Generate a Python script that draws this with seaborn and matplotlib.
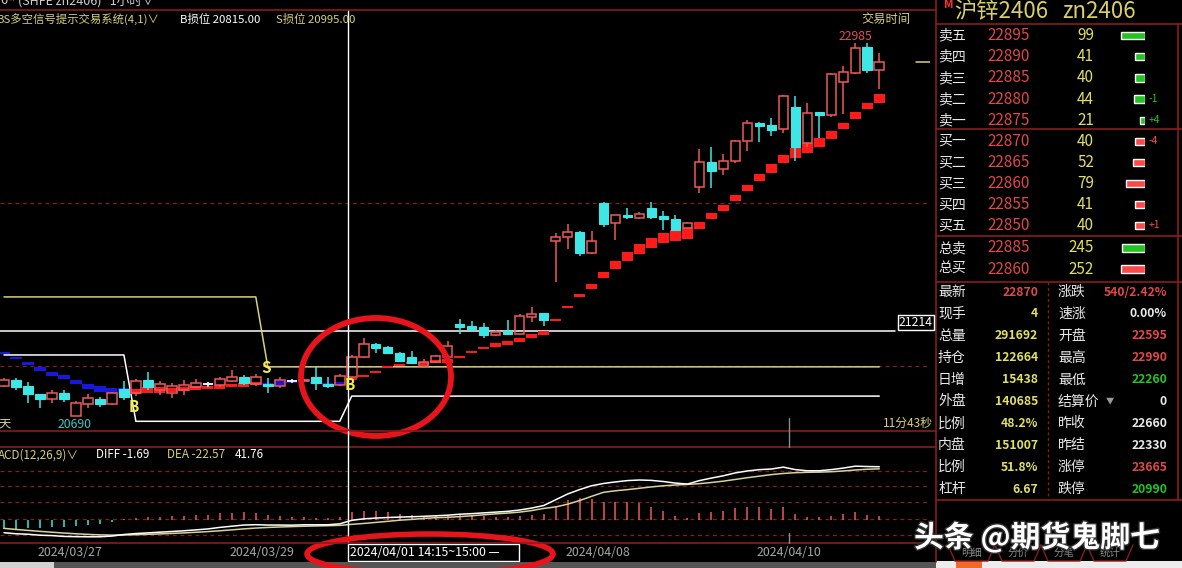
import numpy as np
import matplotlib
matplotlib.use("Agg")
import matplotlib.pyplot as plt
import matplotlib.transforms as mtrans
from matplotlib.patches import Ellipse, Rectangle
import matplotlib.patheffects as pe
import seaborn as sns

sns.set_theme(style="dark", rc={"axes.facecolor": "black", "figure.facecolor": "black",
                                "savefig.facecolor": "black"})
plt.rcParams['font.family'] = ['Noto Sans CJK SC', 'DejaVu Sans']
plt.rcParams['axes.unicode_minus'] = False

# ---------------- data (hourly candles, zn2406) ----------------
bar_open = [20877, 20914, 20877, 20828, 20797, 20834, 20695, 20766, 20797, 20766,
            20858, 20834, 20914, 20852, 20834, 20852, 20871, 20889, 20883, 20908,
            20932, 20889, 20889, 20877, 20908, 20908, 20932, 20889, 20883, 20932,
            21055, 21135, 21117, 21080, 21055, 21000, 21025, 21055, 21258, 21246,
            21240, 21191, 21215, 21197, 21302, 21326, 21771, 21794, 21824, 21695,
            22003, 21880, 21929, 21910, 21972, 21922, 21904, 21849, 22101, 22255,
            22212, 22261, 22384, 22495, 22482, 22458, 22593, 22372, 22562, 22544,
            22747, 22802, 22962, 22820]
bar_high = [20926, 20926, 20902, 20828, 20852, 20852, 20785, 20828, 20809, 20840,
            20908, 20920, 20963, 20908, 20896, 20914, 20920, 20902, 20932, 20975,
            20945, 20951, 20926, 20932, 20920, 20920, 20994, 20932, 20951, 21068,
            21172, 21141, 21123, 21086, 21092, 21043, 21068, 21154, 21289, 21277,
            21264, 21221, 21283, 21320, 21363, 21326, 21816, 21873, 21830, 21830,
            22009, 21929, 21972, 21947, 22009, 21953, 21929, 21886, 22335, 22347,
            22304, 22390, 22513, 22501, 22525, 22667, 22661, 22618, 22562, 22802,
            22845, 22986, 22985, 22925]
bar_low = [20871, 20852, 20773, 20742, 20773, 20779, 20690, 20742, 20748, 20760,
           20791, 20816, 20852, 20822, 20803, 20822, 20865, 20871, 20871, 20902,
           20883, 20877, 20834, 20865, 20895, 20902, 20852, 20865, 20877, 20926,
           21049, 21080, 21074, 21025, 21012, 20988, 21018, 21055, 21196, 21215,
           21172, 21185, 21197, 21190, 21271, 21246, 21519, 21720, 21677, 21689,
           21855, 21775, 21904, 21904, 21904, 21837, 21830, 21843, 22064, 22095,
           22175, 22249, 22323, 22378, 22415, 22433, 22261, 22347, 22402, 22532,
           22550, 22796, 22802, 22704]
bar_close = [20914, 20871, 20828, 20797, 20834, 20797, 20772, 20803, 20766, 20834,
             20809, 20908, 20871, 20889, 20877, 20883, 20896, 20889, 20920, 20932,
             20895, 20932, 20877, 20914, 20908, 20914, 20895, 20877, 20939, 21055,
             21135, 21110, 21080, 21031, 21018, 21025, 21061, 21123, 21240, 21227,
             21191, 21209, 21197, 21308, 21320, 21283, 21792, 21824, 21695, 21769,
             21873, 21929, 21916, 21935, 21916, 21904, 21837, 21880, 22255, 22200,
             22261, 22384, 22495, 22476, 22451, 22661, 22347, 22556, 22544, 22796,
             22808, 22956, 22820, 22870]

# BS long/short signal blocks (S = short/blue, B = long/red)
sig_mode = ("SSSSSSSSSSS" "BBBBBBBBBBB" "SSSSSSS"
            "BBBBBBBBBBBBBBBBBBBBBBBBBBBBBBBBBBBBBBBBBBBBB")
sig_hi = [21086, 21055, 21025, 20994, 20963, 20945, 20914, 20889, 20877, 20865,
          20865, 20858, 20871, 20871, 20865, 20871, 20877, 20877, 20883, 20889,
          20896, 20902, 20896, 20908, 20914, 20920, 20902, 20896, 20902, 20926,
          20945, 20969, 21000, 21012, 21025, 21025, 21037, 21043, 21061, 21092,
          21117, 21141, 21154, 21172, 21197, 21215, 21289, 21369, 21443, 21504,
          21578, 21646, 21701, 21750, 21787, 21818, 21836, 21849, 21886, 21941,
          21990, 22052, 22113, 22181, 22242, 22298, 22341, 22372, 22402, 22445,
          22495, 22562, 22618, 22673]
sig_lo = [21074, 21043, 21006, 20969, 20939, 20920, 20889, 20859, 20840, 20834,
          20828, 20828, 20834, 20834, 20840, 20846, 20852, 20859, 20859, 20871,
          20871, 20883, 20877, 20877, 20896, 20902, 20889, 20877, 20883, 20914,
          20932, 20957, 20988, 21000, 21012, 21006, 21018, 21018, 21052, 21080,
          21105, 21117, 21129, 21148, 21172, 21191, 21277, 21357, 21424, 21474,
          21541, 21597, 21646, 21689, 21726, 21757, 21769, 21781, 21843, 21904,
          21953, 22015, 22076, 22138, 22187, 22249, 22279, 22310, 22347, 22396,
          22458, 22519, 22581, 22618]
sig_marks = [("B", 11), ("S", 22), ("B", 29)]

# stop lines (breakpoints)
s_stop_idx = [0, 21, 22, 73]
s_stop_val = [21425, 21425, 20995, 20995]
b_stop_idx = [0, 10, 11, 28, 29, 73]
b_stop_val = [21068, 21068, 20660, 20660, 20815, 20815]
level_line = 21214
high_mark = 22985
low_mark = 20690

# MACD(12,26,9)
macd_diff = [-66, -71.6, -74.1, -79.1, -81, -85.4, -86.6, -87.3, -87.3, -83.5,
             -75.4, -70.4, -67, -63.3, -59.8, -56, -51.4, -46.4, -38.5, -32.3,
             -26.2, -24.4, -26.3, -26.2, -26.9, -25, -25, -24.75, -20, -1.69,
             6, 10, 13, 15, 17, 19, 22, 25, 30, 33,
             37, 41, 45, 52, 62, 75, 105, 135, 158, 178,
             190, 198, 205, 208, 206, 200, 192, 187, 205, 218,
             230, 245, 255, 262, 265, 275, 262, 256, 256, 262,
             270, 280, 278, 277]
macd_dea = [-43.5, -49.1, -54.1, -59.1, -63.5, -67.9, -71.6, -74.8, -77.3, -78.5,
            -77.9, -76.4, -74.5, -72.3, -69.8, -67, -63.9, -60.4, -56, -51.3,
            -46.2, -41.9, -38.8, -36.2, -34.4, -32.5, -31, -29.75, -27.8, -22.57,
            -18, -12.5, -7, -1, 3, 8, 12, 14, 17.5, 22,
            27, 32, 36, 41, 49, 60, 68, 82, 101, 123,
            144, 152, 158, 165, 172, 178, 182, 185, 189, 195,
            202, 211, 220, 228, 236, 242, 246, 248, 249, 251,
            255, 260, 264, 266]
macd_hist = [-45, -45, -40, -40, -35, -35, -30, -25, -20, -10,
             5, 12, 15, 18, 20, 22, 25, 28, 35, 38,
             40, 35, 25, 20, 15, 15, 12, 10, 15, 41.76,
             48, 45, 40, 32, 28, 22, 20, 22, 25, 22,
             20, 18, 18, 22, 25, 30, 75, 105, 114, 110,
             92, 92, 95, 87, 69, 48, 22, 10, 35, 40,
             48, 62, 69, 66, 57, 66, 31, 17, 15, 22,
             31, 40, 28, 22]

date_labels = ["2024/03/27", "2024/03/29", "2024/04/08", "2024/04/10"]
date_pos = [5.5, 21.5, 49.5, 65.5]
cursor_idx = 29
cursor_text = "2024/04/01 14:15~15:00 —"

# order book
ask_labels = ["卖五", "卖四", "卖三", "卖二", "卖一"]
ask_prices = [22895, 22890, 22885, 22880, 22875]
ask_vols = [99, 41, 40, 44, 21]
ask_chg = ["", "", "", "-1", "+4"]
bid_labels = ["买一", "买二", "买三", "买四", "买五"]
bid_prices = [22870, 22865, 22860, 22855, 22850]
bid_vols = [40, 52, 79, 41, 40]
bid_chg = ["-4", "", "", "", "+1"]
tot_labels = ["总卖", "总买"]
tot_prices = [22885, 22860]
tot_vols = [245, 252]

stat_left_names = ["最新", "现手", "总量", "持仓", "日增", "外盘", "比例", "内盘", "比例", "杠杆"]
stat_left_vals = ["22870", "4", "291692", "122664", "15438", "140685", "48.2%", "151007", "51.8%", "6.67"]
stat_right_names = ["涨跌", "速涨", "开盘", "最高", "最低", "结算价", "昨收", "昨结", "涨停", "跌停"]
stat_right_vals = ["540/2.42%", "0.00%", "22595", "22990", "22260", "0", "22660", "22330", "23665", "20990"]

# ---------------- styles ----------------
RED_C = "#ee5a5a"
CYAN_C = "#3ee6e6"
BLK_RED = "#ff1a1a"
BLK_BLUE = "#1717e0"
DARK_RED = "#8a1c1c"
KHAKI = "#d8d07a"
YEL = "#e2e060"
GRAY = "#a6a6a6"
PR_RED = "#e04848"
GREEN = "#22c422"

W, H = 1182, 568
fig = plt.figure(figsize=(W / 100, H / 100), dpi=100)


def px_axes(x0, y0, x1, y1, **kw):
    return fig.add_axes([x0 / W, 1 - y1 / H, (x1 - x0) / W, (y1 - y0) / H], **kw)


XL, XR = -0.334, 77.23
idx = np.arange(len(bar_open))
o = np.array(bar_open, float); h = np.array(bar_high, float)
l = np.array(bar_low, float); c = np.array(bar_close, float)

# ---------------- price panel ----------------
ax = px_axes(0, 10, 930, 431)
ax.axhline(22000, color=DARK_RED, lw=0.9, ls=(0, (3, 3)), zorder=1)
ax.axhline(21000, color=DARK_RED, lw=0.9, ls=(0, (3, 3)), zorder=1)
ax.axhline(level_line, xmax=895 / 930, color="white", lw=1.1, zorder=1)
ax.axhline(bar_close[-1], xmin=916 / 930, xmax=1, color=KHAKI, lw=1.1)

sns.lineplot(x=s_stop_idx, y=s_stop_val, ax=ax, color=KHAKI, lw=1.1,
             estimator=None, sort=False, legend=False, zorder=2)
sns.lineplot(x=b_stop_idx, y=b_stop_val, ax=ax, color="white", lw=1.1,
             estimator=None, sort=False, legend=False, zorder=2)

hi = np.array(sig_hi, float); lo = np.array(sig_lo, float)
blk_cols = [BLK_BLUE if m == "S" else BLK_RED for m in sig_mode]
ax.bar(idx, hi - lo, bottom=lo, width=0.93, color=blk_cols, linewidth=0, zorder=3)

up = c > o
dn = c < o
dj = c == o
ax.vlines(idx[up], l[up], o[up], color=RED_C, lw=1.1, zorder=4)
ax.vlines(idx[up], c[up], h[up], color=RED_C, lw=1.1, zorder=4)
ax.bar(idx[up], c[up] - o[up], bottom=o[up], width=0.8, facecolor="none",
       edgecolor=RED_C, linewidth=1.1, zorder=4)
ax.vlines(idx[dn], l[dn], h[dn], color=CYAN_C, lw=1.1, zorder=4)
ax.bar(idx[dn], o[dn] - c[dn], bottom=c[dn], width=0.8, color=CYAN_C,
       edgecolor=CYAN_C, linewidth=0.8, zorder=4)
ax.vlines(idx[dj], l[dj], h[dj], color="white", lw=1.1, zorder=4)
ax.hlines(c[dj], idx[dj] - 0.4, idx[dj] + 0.4, color="white", lw=1.3, zorder=4)

ax.axvline(cursor_idx - 0.3, color="white", lw=1, zorder=5)
ax.set_xlim(XL, XR)
ax.set_ylim(20600.4, 23189.5)
ax.axis("off")

# ---------------- MACD panel ----------------
mx = px_axes(0, 447, 930, 543)
for lv in [-78, 7, 94, 177, 256]:
    mx.axhline(lv, color=DARK_RED, lw=0.9, ls=(0, (3, 3)), zorder=1)
hist = np.array(macd_hist, float)
mx.vlines(idx, 0, hist, colors=[RED_C if v > 0 else CYAN_C for v in hist], lw=1.1, zorder=2)
sns.lineplot(x=idx, y=macd_dea, ax=mx, color="#d6d49a", lw=1.1, estimator=None,
             sort=False, legend=False, zorder=3)
sns.lineplot(x=idx, y=macd_diff, ax=mx, color="white", lw=1.1, estimator=None,
             sort=False, legend=False, zorder=4)
mx.axvline(cursor_idx - 0.3, color="white", lw=1, zorder=5)
mx.set_xlim(XL, XR)
mx.set_ylim(-119.6, 379.6)
mx.axis("off")

# ---------------- date axis ----------------
dt = px_axes(0, 543, 930, 562)
dt.set_xlim(XL, XR)
dt.set_ylim(0, 1)
dt.axis("off")
for s, p in zip(date_labels, date_pos):
    dt.text(p, 0.5, s, color=GRAY, fontsize=8.9, ha="center", va="center")
cx = cursor_idx - 0.3
dt.add_patch(Rectangle((cx, 0.03), 14.25, 0.94, facecolor="black", edgecolor="white", lw=1))
dt.text(cx + 0.15, 0.5, cursor_text, color="white", fontsize=8.9, ha="left", va="center")

# ---------------- order book bars ----------------
bk = px_axes(1100, 25.3, 1145, 236)
bk.barh(np.arange(10), ask_vols + bid_vols, height=0.34,
        color=[GREEN] * len(ask_vols) + ["#ff4848"] * len(bid_vols))
bk.set_xlim(187.5, 0)
bk.set_ylim(9.5, -0.5)
bk.axis("off")
tk = px_axes(1100, 237.5, 1145, 279.5)
tk.barh(np.arange(2), tot_vols, height=0.34, color=[GREEN, "#ff4848"])
tk.set_xlim(473, 0)
tk.set_ylim(1.5, -0.5)
tk.axis("off")

# ---------------- overlay (pixel coords) ----------------
ov = fig.add_axes([0, 0, 1, 1], zorder=10)
ov.set_xlim(0, W)
ov.set_ylim(H, 0)
ov.axis("off")


def T(x, y, s, color, size, ha="left", va="center", **kw):
    ov.text(x, y, s, color=color, fontsize=size, ha=ha, va=va, **kw)


# panel borders
for yy in [10, 431, 447, 543]:
    ov.plot([0, 936], [yy, yy], color=DARK_RED, lw=1.2)
ov.plot([936, 936], [0, 562], color=DARK_RED, lw=1.2)
for yy in [24, 128.5, 236, 281.5, 500]:
    ov.plot([936, 1182], [yy, yy], color=DARK_RED, lw=1.2)
ov.plot([1178, 1178], [24, 500], color=DARK_RED, lw=1.2)
ov.plot([1048, 1048], [282, 500], color=DARK_RED, lw=1.0, ls=(0, (2, 2)))

# cursor through the gap + day tick
bl = mtrans.blended_transform_factory(ax.transData, ov.transData)
ov.plot([cursor_idx - 0.3] * 2, [431, 447], color="white", lw=1, transform=bl)
ov.plot([65.5, 65.5], [418, 447], color="#8c8c8c", lw=1, transform=bl)
ov.plot([65.5, 65.5], [533, 543], color="#8c8c8c", lw=1, transform=bl)

# headers
T(0, 1, "6", "#cfcfcf", 9)
T(8, -1, "M", "#e04040", 5)
T(18, 1, "(SHFE zn2406)   1小时∨", "#cfcfcf", 9)
T(-3, 19, "BS多空信号提示交易系统(4,1)∨", KHAKI, 8.2)
T(180, 19, "B损位 20815.00", "white", 8.2)
T(276, 19, "S损位 20995.00", KHAKI, 8.2)
T(886, 19, "交易时间", KHAKI, 8.8, ha="center")
T(855, 37, f"{high_mark}", "#e05050", 8.8, ha="center")
T(75, 424, f"{low_mark}", "#3cc8c8", 8.8, ha="center")
T(-2, 424, "天", "#d2d2a8", 8.8)
T(883, 423, "11分43秒", KHAKI, 8.6)
T(899, 322.5, f"{level_line}", "white", 8.8,
  bbox=dict(boxstyle="square,pad=0.12", fc="black", ec="white", lw=1))

for (s, i), yy in zip(sig_marks, [407, 368, 385]):
    ov.text(i - 0.15, yy, s, color="#f4f048", fontsize=11, fontweight="bold",
            ha="center", va="center", transform=bl)

# MACD legend
T(-2, 455, "ACD(12,26,9)∨", KHAKI, 8.4)
T(96, 455, f"DIFF {macd_diff[cursor_idx]:.2f}", "white", 8.4)
T(167, 455, f"DEA {macd_dea[cursor_idx]:.2f}", KHAKI, 8.4)
T(235, 455, f"{macd_hist[cursor_idx]:.2f}", "white", 8.4)

# right panel texts
T(944, 4, "M", "#ff3030", 8, fontweight="bold")
T(954, 12, "沪锌2406", "#d8cf68", 16)
T(1062, 12, "zn2406", "#d8cf68", 16)
rows_y = [35.8 + 21.07 * k for k in range(10)]
book_labels = ask_labels + bid_labels
book_prices = ask_prices + bid_prices
book_vols = ask_vols + bid_vols
book_chg = ask_chg + bid_chg
for k in range(10):
    T(938, rows_y[k], book_labels[k], "#e8e8e8", 10)
    T(1030, rows_y[k], str(book_prices[k]), PR_RED, 11, ha="right")
    T(1094, rows_y[k], str(book_vols[k]), YEL, 11, ha="right")
    if book_chg[k]:
        T(1149, rows_y[k], book_chg[k], GREEN if k < 5 else "#ff4848", 7.5)
for k, yy in enumerate([248, 269]):
    T(938, yy, tot_labels[k], "#e8e8e8", 10)
    T(1030, yy, str(tot_prices[k]), PR_RED, 11, ha="right")
    T(1094, yy, str(tot_vols[k]), YEL, 11, ha="right")

left_cols = [PR_RED] + [YEL] * 9
right_cols = [PR_RED, "#e8e8e8", PR_RED, PR_RED, GREEN, "#e8e8e8", "#e8e8e8", "#e8e8e8", PR_RED, GREEN]
for k in range(10):
    yy = 292 + 21.9 * k
    T(938, yy, stat_left_names[k], "#e8e8e8", 10)
    T(1038, yy, stat_left_vals[k], left_cols[k], 8.8, ha="right", fontweight="bold")
    T(1058, yy, stat_right_names[k], "#e8e8e8", 10)
    T(1167, yy, stat_right_vals[k], right_cols[k], 8.8, ha="right", fontweight="bold")
T(1106, 401, "▼", "#9a9a9a", 6)

# tabs
for xl_, xr_, s in [(948, 995, "明细"), (995, 1041, "分价"), (1041, 1087, "分笔"), (1087, 1133, "统计")]:
    ov.plot([xl_, xl_ + 7, xr_ - 7, xr_], [545, 561, 561, 545], color=DARK_RED, lw=1)
    T((xl_ + xr_) / 2, 553, s, "#8a8a8a", 7.5, ha="center")

# bottom strip
ov.add_patch(Rectangle((0, 562), 936, 6, facecolor="#555555", edgecolor="none"))
ov.add_patch(Rectangle((0, 562), 54, 6, facecolor="#d2d2d2", edgecolor="none"))
ov.add_patch(Rectangle((936, 561), 246, 7, facecolor="#ececec", edgecolor="none"))
ov.add_patch(Rectangle((956, 561), 26, 7, facecolor="#f26a2a", edgecolor="none"))

# watermark
ov.text(914, 537, "头条 @期货鬼脚七", color="white", fontsize=21.5, fontweight="bold",
        ha="left", va="center",
        path_effects=[pe.withStroke(linewidth=2, foreground="#303030")])

# red annotation ellipses
ov.add_patch(Ellipse((376, 377), 150, 118, fill=False, ec="#e8141c", lw=4.2))
ov.add_patch(Ellipse((430, 554), 246, 40, fill=False, ec="#e8141c", lw=4.0))

fig.savefig("out.png", dpi=100, facecolor="black")
